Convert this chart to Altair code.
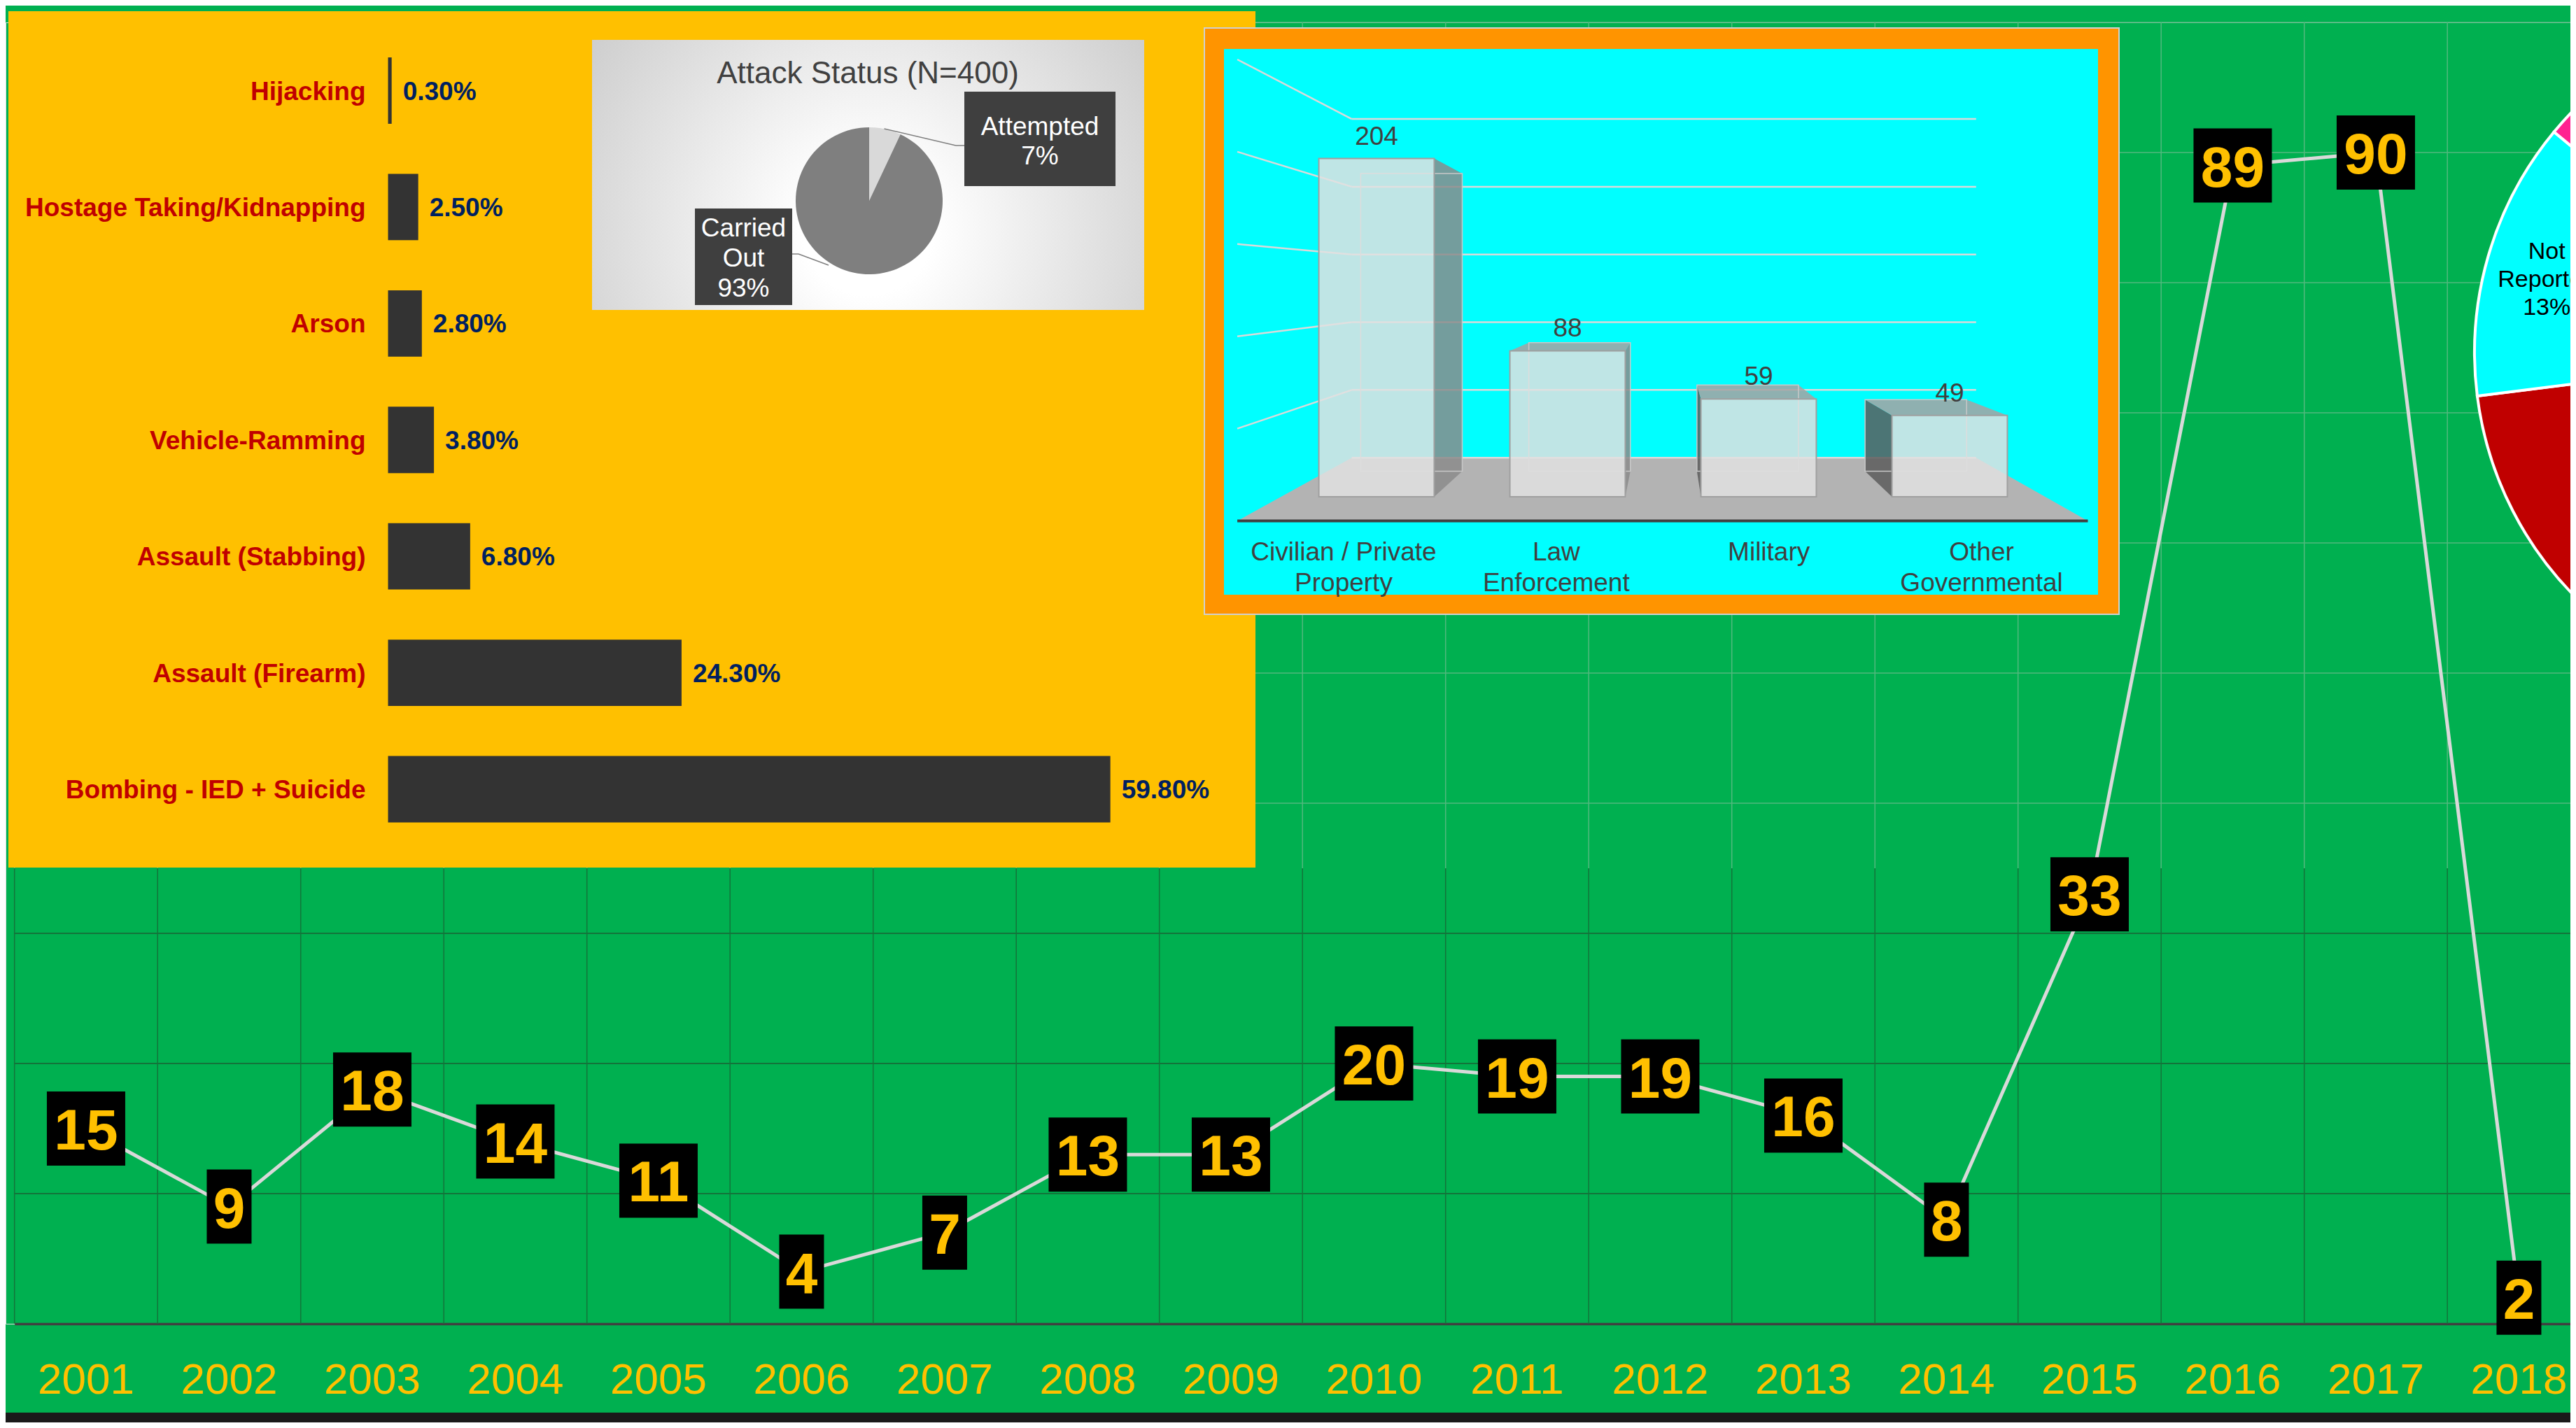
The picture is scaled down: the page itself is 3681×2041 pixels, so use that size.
import altair as alt
import pandas as pd

FONT = "Liberation Sans, Arial, sans-serif"

# ---------------- data ----------------
years = [str(y) for y in range(2001, 2019)]
attacks = [15, 9, 18, 14, 11, 4, 7, 13, 13, 20, 19, 19, 16, 8, 33, 89, 90, 2]
line_gridlines = [10, 20, 30, 40, 50, 60, 70, 80, 90, 100]

attack_types = ["Hijacking", "Hostage Taking/Kidnapping", "Arson", "Vehicle-Ramming",
                "Assault (Stabbing)", "Assault (Firearm)", "Bombing - IED + Suicide"]
attack_type_pct = [0.3, 2.5, 2.8, 3.8, 6.8, 24.3, 59.8]

status_title = "Attack Status (N=400)"
status_labels = ["Attempted", "Carried Out"]
status_pct = [7, 93]

target_labels = ["Civilian / Private\nProperty", "Law\nEnforcement", "Military", "Other\nGovernmental"]
target_counts = [204, 88, 59, 49]
target_gridlines = [0, 50, 100, 150, 200, 250]

claim_labels = ["Other", "Claimed", "Not Reported", "Unclaimed"]
claim_pct = [50, 23, 13, 14]
claim_colors = ["#7030A0", "#C00000", "#00FFFF", "#FF2290"]

# ---------------- layout ----------------
W, H = 3665, 1860
GREEN = "#00B050"
DARK_GRID = "#13743A"
LIGHT_GRID = "#52B97E"
SPLIT = 35


def one_row():
    return pd.DataFrame({"k": [0]})


def panel(x, x2, y, y2, **kw):
    return alt.Chart(one_row()).mark_rect(**kw).encode(
        x=alt.value(x), x2=alt.value(x2), y=alt.value(y), y2=alt.value(y2))


def segment(x, y, x2, y2, **kw):
    return alt.Chart(one_row()).mark_rule(**kw).encode(
        x=alt.value(x), y=alt.value(y), x2=alt.value(x2), y2=alt.value(y2))


# ================= main line chart =================
xs = alt.Scale(type="band", domain=years, range=[12.7, 3693.7], paddingInner=0, paddingOuter=0)
ys = alt.Scale(domain=[0, 100], nice=False, zero=True)
xaxis = alt.Axis(title=None, labelAngle=0, labelColor="#FFC000", labelFont=FONT,
                 labelFontSize=62, labelPadding=50, ticks=False, domainColor="#404040",
                 domainWidth=3.5, grid=False, labelOverlap=False)

line_df = pd.DataFrame({"year": years, "attacks": attacks})
line_df["digits"] = line_df["attacks"].astype(str).str.len()
year_df = pd.DataFrame({"year": years})
hgrid_df = pd.DataFrame({"g": line_gridlines})

vgrid_dark = alt.Chart(year_df).mark_rule(color=DARK_GRID, strokeWidth=1.5).encode(
    x=alt.X("year:O", scale=xs, axis=xaxis, bandPosition=0),
    y=alt.YDatum(0, scale=ys, axis=None), y2=alt.datum(SPLIT))
vgrid_light = alt.Chart(year_df).mark_rule(color=LIGHT_GRID, strokeWidth=1.5).encode(
    x=alt.X("year:O", scale=xs, axis=xaxis, bandPosition=0),
    y=alt.YDatum(SPLIT, scale=ys, axis=None), y2=alt.datum(100))
hgrid_dark = alt.Chart(hgrid_df).transform_filter(alt.datum.g < SPLIT).mark_rule(
    color=DARK_GRID, strokeWidth=2).encode(
    y=alt.Y("g:Q", scale=ys, axis=None), x=alt.value(12.7), x2=alt.value(W))
hgrid_light = alt.Chart(hgrid_df).transform_filter(alt.datum.g > SPLIT).mark_rule(
    color=LIGHT_GRID, strokeWidth=1.5).encode(
    y=alt.Y("g:Q", scale=ys, axis=None), x=alt.value(12.7), x2=alt.value(W))

base = alt.Chart(line_df).encode(
    x=alt.X("year:O", scale=xs, axis=xaxis),
    y=alt.Y("attacks:Q", scale=ys, axis=None))
line = base.mark_line(color="#D9D9D9", strokeWidth=5)
box1 = base.transform_filter(alt.datum.digits == 1).mark_point(
    shape="M-0.6038,-1L0.6038,-1L0.6038,1L-0.6038,1Z", size=106 * 106,
    filled=True, color="black", opacity=1, strokeWidth=0)
box2 = base.transform_filter(alt.datum.digits == 2).mark_point(
    shape="M-1.0566,-1L1.0566,-1L1.0566,1L-1.0566,1Z", size=106 * 106,
    filled=True, color="black", opacity=1, strokeWidth=0)
labels = base.mark_text(font=FONT, fontSize=82, fontWeight="bold", color="#FFC000",
                        baseline="middle", dy=5).encode(text="attacks:Q")

main = alt.layer(vgrid_dark, vgrid_light, hgrid_dark, hgrid_light, line, box1, box2, labels)

# ================= attack type bars (yellow panel) =================
bx = alt.Scale(domain=[0, 60], range=[546.5, 1582.1], nice=False, zero=False)
by = alt.Scale(type="band", domain=attack_types, range=[14.3, 1179.2],
               paddingInner=0.43, paddingOuter=0.215)
type_df = pd.DataFrame({"type": attack_types, "pct": attack_type_pct})
type_df["zero"] = 0
type_df["pct_label"] = [f"{p:.2f}%" for p in attack_type_pct]

yellow = panel(4, 1786, -16, 1208, color="#FFC000")
tbars = alt.Chart(type_df).mark_bar(color="#333333").encode(
    x=alt.X("pct:Q", scale=bx, axis=None), y=alt.Y("type:N", scale=by, axis=None))
tcat = alt.Chart(type_df).mark_text(align="right", baseline="middle", dx=-32, dy=2,
                                    font=FONT, fontSize=37, fontWeight="bold",
                                    color="#C00000").encode(
    x=alt.X("zero:Q", scale=bx, axis=None), y=alt.Y("type:N", scale=by, axis=None),
    text="type:N")
tval = alt.Chart(type_df).mark_text(align="left", baseline="middle", dx=16, dy=2,
                                    font=FONT, fontSize=37, fontWeight="bold",
                                    color="#002060").encode(
    x=alt.X("pct:Q", scale=bx, axis=None), y=alt.Y("type:N", scale=by, axis=None),
    text="pct_label:N")
types_layer = alt.layer(yellow, tbars, tcat, tval)

# ================= attack status pie =================
status_df = pd.DataFrame({"label": status_labels, "pct": status_pct,
                          "idx": list(range(len(status_labels)))})
status_df["txt"] = [l.replace(" ", "\n") + f"\n{p}%" for l, p in zip(status_labels, status_pct)]

grad = alt.RadialGradient(gradient="radial",
                          stops=[alt.GradientStop(color="#FFFFFF", offset=0.15),
                                 alt.GradientStop(color="#BDBDBD", offset=1)],
                          x1=0.5, y1=0.6, r1=0, x2=0.5, y2=0.6, r2=0.78)
gpanel = panel(838, 1627, 25, 411, fill=grad)
stitle = alt.Chart(pd.DataFrame({"t": [status_title]})).mark_text(
    font=FONT, fontSize=44, color="#404040", baseline="middle").encode(
    x=alt.value(1232), y=alt.value(73.6), text="t:N")
spie = alt.Chart(status_df).mark_arc(outerRadius=105).encode(
    theta=alt.Theta("pct:Q", stack=True),
    color=alt.Color("label:N", scale=alt.Scale(domain=status_labels,
                                               range=["#D9D9D9", "#7F7F7F"]), legend=None),
    order=alt.Order("idx:Q"),
    x=alt.value(1234), y=alt.value(255))
lead1 = segment(1255.5, 152, 1358, 176, color="#7F7F7F", strokeWidth=1.5)
lead1b = segment(1358, 176, 1370, 176, color="#7F7F7F", strokeWidth=1.5)
lead2 = segment(1176, 347, 1133, 331, color="#7F7F7F", strokeWidth=1.5)
lead2b = segment(1133, 331, 1124, 331, color="#7F7F7F", strokeWidth=1.5)
cbox1 = panel(1370, 1586, 99, 234, color="#3F3F3F")
cbox2 = panel(985, 1124, 266, 404, color="#3F3F3F")
ctxt1 = alt.Chart(status_df).transform_filter(alt.datum.idx == 0).mark_text(
    font=FONT, fontSize=37, color="white", baseline="top", lineBreak="\n",
    lineHeight=42).encode(x=alt.value(1478), y=alt.value(132), text="txt:N")
ctxt2 = alt.Chart(status_df).transform_filter(alt.datum.idx == 1).mark_text(
    font=FONT, fontSize=37, color="white", baseline="top", lineBreak="\n",
    lineHeight=43).encode(x=alt.value(1054.5), y=alt.value(277), text="txt:N")
status_layer = alt.layer(gpanel, stitle, spie, lead1, lead1b, lead2, lead2b,
                         cbox1, cbox2, ctxt1, ctxt2)

# ================= 3D target bars =================
tx = alt.Scale(domain=[0, 3], range=[1959, 2778], nice=False, zero=False)
ty = alt.Scale(domain=[0, 250], range=[678, 85.5], nice=False, zero=False)
Vu, Vv = 1.524, 128.7
S_BACK, S_FLOOR, S_WALL, HW = 0.88, 1.113, 0.817, 0.302


def pu(u, s):
    return Vu + s * (u - Vu)


def pv(v, s):
    return Vv + s * (v - Vv)


n = len(target_counts)
uL, uR = -0.5, n - 0.5
floor_df = pd.DataFrame([
    {"u": pu(uL, S_FLOOR), "v": pv(0, S_FLOOR), "v2": pv(0, S_FLOOR)},
    {"u": pu(uL, S_WALL), "v": pv(0, S_WALL), "v2": pv(0, S_FLOOR)},
    {"u": pu(uR, S_WALL), "v": pv(0, S_WALL), "v2": pv(0, S_FLOOR)},
    {"u": pu(uR, S_FLOOR), "v": pv(0, S_FLOOR), "v2": pv(0, S_FLOOR)},
])
edge_df = pd.DataFrame([{"u": pu(uL, S_FLOOR), "v": pv(0, S_FLOOR),
                         "u2": pu(uR, S_FLOOR), "v2": pv(0, S_FLOOR)}])
grid_rows = []
for g in target_gridlines:
    grid_rows.append({"u": pu(uL, S_WALL), "v": pv(g, S_WALL), "u2": pu(uR, S_WALL), "v2": pv(g, S_WALL)})
    if g > 0:
        grid_rows.append({"u": pu(uL, S_FLOOR), "v": pv(g, S_FLOOR), "u2": pu(uL, S_WALL), "v2": pv(g, S_WALL)})
grid3_df = pd.DataFrame(grid_rows)

front_rows, back_rows, side_rows, top_rows = [], [], [], []
for i, val in enumerate(target_counts):
    u0, u1 = i - HW, i + HW
    bu0, bu1 = pu(u0, S_BACK), pu(u1, S_BACK)
    bvt, bvb = pv(val, S_BACK), pv(0, S_BACK)
    front_rows.append({"bar": i, "u": u0, "u2": u1, "v": 0, "v2": val, "uc": i,
                       "val": val, "uf": pu(i, S_FLOOR), "lab": target_labels[i]})
    back_rows.append({"bar": i, "u": bu0, "u2": bu1, "v": bvb, "v2": bvt})
    if u1 < Vu:
        side_rows += [{"bar": i, "side": "right", "u": u1, "v": val, "v2": 0},
                      {"bar": i, "side": "right", "u": bu1, "v": bvt, "v2": bvb}]
    elif u0 > Vu:
        side_rows += [{"bar": i, "side": "left", "u": bu0, "v": bvt, "v2": bvb},
                      {"bar": i, "side": "left", "u": u0, "v": val, "v2": 0}]
    if val < Vv:
        top_rows += [{"bar": i, "v": val, "u": u0, "u2": u1},
                     {"bar": i, "v": bvt, "u": bu0, "u2": bu1}]
front_df = pd.DataFrame(front_rows)
back_df = pd.DataFrame(back_rows)
side_df = pd.DataFrame(side_rows)
top_df = pd.DataFrame(top_rows)

frame = panel(1713, 3020, 8, 846, color="#FF9400", stroke="#D0D0D0", strokeWidth=2)
cyan = panel(1741, 2990, 38, 818, color="#00FFFF")
floor = alt.Chart(floor_df).mark_area(color="#B3B3B3", opacity=1).encode(
    x=alt.X("u:Q", scale=tx, axis=None), y=alt.Y("v:Q", scale=ty, axis=None, stack=None),
    y2="v2:Q")
grid3 = alt.Chart(grid3_df).mark_rule(color="#DADADA", strokeWidth=2.5).encode(
    x=alt.X("u:Q", scale=tx, axis=None), y=alt.Y("v:Q", scale=ty, axis=None),
    x2="u2:Q", y2="v2:Q")
fedge = alt.Chart(edge_df).mark_rule(color="#404040", strokeWidth=4).encode(
    x=alt.X("u:Q", scale=tx, axis=None), y=alt.Y("v:Q", scale=ty, axis=None),
    x2="u2:Q", y2="v2:Q")
sides = alt.Chart(side_df).mark_area(opacity=0.84).encode(
    x=alt.X("u:Q", scale=tx, axis=None), y=alt.Y("v:Q", scale=ty, axis=None, stack=None),
    y2="v2:Q", detail="bar:N",
    color=alt.Color("side:N", scale=alt.Scale(domain=["right", "left"],
                                              range=["#8A8A8A", "#5A5A5A"]), legend=None))
tops = alt.Chart(top_df).mark_area(orient="horizontal", color="#A4A4A4", opacity=0.87).encode(
    y=alt.Y("v:Q", scale=ty, axis=None),
    x=alt.X("u:Q", scale=tx, axis=None, stack=None), x2="u2:Q", detail="bar:N")
backs = alt.Chart(back_df).mark_rect(filled=False, stroke="#C8C8C8", strokeWidth=1.5).encode(
    x=alt.X("u:Q", scale=tx, axis=None), x2="u2:Q",
    y=alt.Y("v:Q", scale=ty, axis=None), y2="v2:Q")
fronts = alt.Chart(front_df).mark_rect(fill="#E0E0E0", fillOpacity=0.85, stroke="#A0A0A0",
                                       strokeWidth=2).encode(
    x=alt.X("u:Q", scale=tx, axis=None), x2="u2:Q",
    y=alt.Y("v:Q", scale=ty, axis=None), y2="v2:Q")
vlabels = alt.Chart(front_df).mark_text(font=FONT, fontSize=37, color="#404040",
                                        baseline="middle", dy=-31).encode(
    x=alt.X("uc:Q", scale=tx, axis=None), y=alt.Y("val:Q", scale=ty, axis=None),
    text="val:Q")
clabels = alt.Chart(front_df).mark_text(font=FONT, fontSize=37, color="#404040",
                                        baseline="top", lineBreak="\n", lineHeight=44).encode(
    x=alt.X("uf:Q", scale=tx, axis=None), y=alt.value(740), text="lab:N")
target_layer = alt.layer(frame, cyan, floor, grid3, fedge, sides, tops, backs, fronts,
                         vlabels, clabels)

# ================= right pie (cut off) =================
claim_df = pd.DataFrame({"label": claim_labels, "pct": claim_pct,
                         "idx": list(range(len(claim_labels)))})
claim_df["txt"] = [l.replace(" ", "\n") + f"\n{p}%" for l, p in zip(claim_labels, claim_pct)]
cpie = alt.Chart(claim_df).mark_arc(outerRadius=495, stroke="white", strokeWidth=4).encode(
    theta=alt.Theta("pct:Q", stack=True),
    color=alt.Color("label:N", scale=alt.Scale(domain=claim_labels, range=claim_colors),
                    legend=None),
    order=alt.Order("idx:Q"),
    x=alt.value(4023), y=alt.value(472))
ctext = alt.Chart(claim_df).mark_text(radius=408, font=FONT, fontSize=34, color="black",
                                      baseline="middle", lineBreak="\n", lineHeight=40,
                                      dy=-30).encode(
    theta=alt.Theta("pct:Q", stack=True), order=alt.Order("idx:Q"), text="txt:N",
    x=alt.value(4023), y=alt.value(472))
claim_layer = alt.layer(cpie, ctext)

# ================= bottom band =================
band = panel(0, W, 1987, 2001, color="#1A1A1A")

chart = alt.layer(main, types_layer, status_layer, target_layer, claim_layer, band).resolve_scale(
    x="independent", y="independent", color="independent", theta="independent"
).properties(
    width=W, height=H,
    autosize=alt.AutoSizeParams(type="none"),
    padding={"left": 0, "top": 24, "right": 0, "bottom": 141},
    background=GREEN,
).configure_view(strokeWidth=0).configure(font=FONT)

chart.save("out.html", embed_options={"renderer": "svg", "actions": False})
